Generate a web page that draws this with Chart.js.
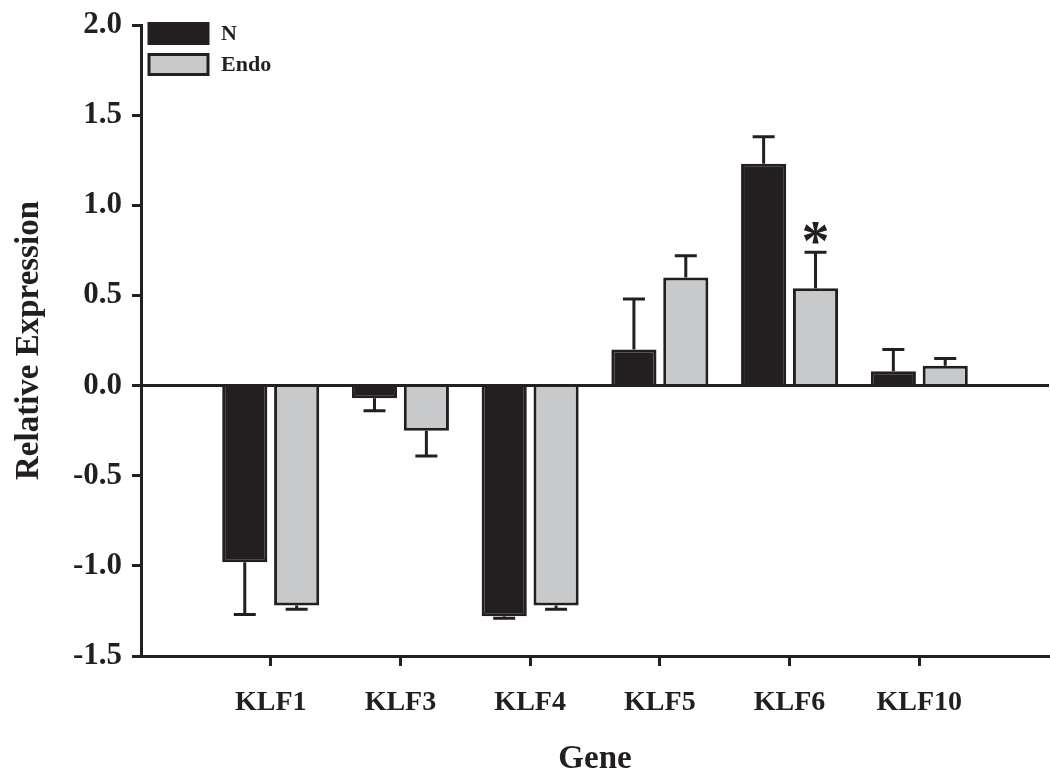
<!DOCTYPE html>
<html>
<head>
<meta charset="utf-8">
<script src="https://cdn.jsdelivr.net/npm/chart.js@4.4.0/dist/chart.umd.min.js"></script>
<style>
  html, body { margin: 0; padding: 0; background: #fff; }
  #wrap { width: 1050px; height: 781px; }
</style>
</head>
<body>
<div id="wrap"><canvas id="klfChart"></canvas></div>
<script>
// values (mean, one-sided SEM)
const genes = ['KLF1', 'KLF3', 'KLF4', 'KLF5', 'KLF6', 'KLF10'];
const nValues = [-0.98, -0.07, -1.28, 0.20, 1.23, 0.08];
const nErrors = [0.29, 0.07, 0.01, 0.28, 0.15, 0.12];
const endoValues = [-1.22, -0.25, -1.22, 0.60, 0.54, 0.11];
const endoErrors = [0.02, 0.14, 0.02, 0.12, 0.20, 0.04];
const endoMarks = ['', '', '', '', '*', ''];

const INK = '#231f20';
const GREY = '#c8c9cb';
const SERIF = '"Liberation Serif", "Times New Roman", serif';

// empty slots at both ends so the genes sit one step in from the axes
const labels = [''].concat(genes, ['']);
const pad = arr => [null].concat(arr, [null]);

const errorBars = {
    id: 'errorBars',
    afterDatasetsDraw(chart) {
        const ctx = chart.ctx;
        const yScale = chart.scales.y;
        ctx.save();
        ctx.strokeStyle = INK;
        ctx.lineWidth = 3;
        chart.data.datasets.forEach((ds, i) => {
            chart.getDatasetMeta(i).data.forEach((bar, j) => {
                const v = ds.data[j];
                const e = ds.errors[j];
                if (v == null || e == null) return;
                const tip = v + (v < 0 ? -e : e);
                const y0 = yScale.getPixelForValue(v);
                const y1 = yScale.getPixelForValue(tip);
                ctx.beginPath();
                ctx.moveTo(bar.x, y0);
                ctx.lineTo(bar.x, y1);
                ctx.moveTo(bar.x - 11, y1);
                ctx.lineTo(bar.x + 11, y1);
                ctx.stroke();
                const mark = ds.marks ? ds.marks[j] : '';
                if (mark) {
                    ctx.fillStyle = INK;
                    ctx.font = 'bold 56px ' + SERIF;
                    ctx.textAlign = 'center';
                    ctx.textBaseline = 'alphabetic';
                    const m = ctx.measureText(mark);
                    const h = m.actualBoundingBoxAscent + m.actualBoundingBoxDescent;
                    const cy = y1 - 19;
                    ctx.fillText(mark, bar.x, cy + h / 2 - m.actualBoundingBoxDescent);
                }
            });
        });
        ctx.restore();
    }
};

const boxLegend = {
    id: 'boxLegend',
    afterDraw(chart) {
        const ctx = chart.ctx;
        const area = chart.chartArea;
        ctx.save();
        ctx.font = 'bold 22px ' + SERIF;
        ctx.textBaseline = 'middle';
        ctx.textAlign = 'left';
        chart.data.datasets.forEach((ds, i) => {
            const x = area.left + 8;
            const y = area.top - 1.5 + i * 31;
            ctx.fillStyle = ds.backgroundColor;
            ctx.fillRect(x, y, 59, 20);
            ctx.strokeStyle = ds.borderColor;
            ctx.lineWidth = 3;
            ctx.strokeRect(x, y, 59, 20);
            ctx.fillStyle = INK;
            ctx.fillText(ds.label, x + 72, y + 11);
        });
        ctx.restore();
    }
};

new Chart(document.getElementById('klfChart'), {
    type: 'bar',
    data: {
        labels: labels,
        datasets: [{
            label: 'N',
            data: pad(nValues),
            errors: pad(nErrors),
            backgroundColor: INK,
            borderColor: INK,
            borderWidth: 3,
            categoryPercentage: 0.8,
            barPercentage: 0.87
        }, {
            label: 'Endo',
            data: pad(endoValues),
            errors: pad(endoErrors),
            marks: pad(endoMarks),
            backgroundColor: GREY,
            borderColor: INK,
            borderWidth: 3,
            categoryPercentage: 0.8,
            barPercentage: 0.87
        }]
    },
    options: {
        responsive: true,
        maintainAspectRatio: false,
        animation: false,
        layout: { padding: { top: 25, right: 1, left: 0, bottom: 0 } },
        plugins: {
            legend: { display: false },
            tooltip: { enabled: false }
        },
        scales: {
            x: {
                offset: false,
                border: { color: INK, width: 3 },
                grid: {
                    offset: false,
                    drawOnChartArea: false,
                    tickLength: 10,
                    tickWidth: 3,
                    tickColor: c => (c.index === 0 || c.index === labels.length - 1) ? 'rgba(0,0,0,0)' : INK
                },
                ticks: {
                    autoSkip: false,
                    maxRotation: 0,
                    padding: 20,
                    color: INK,
                    font: { family: SERIF, size: 28, weight: 'bold' }
                },
                title: {
                    display: true,
                    text: 'Gene',
                    color: INK,
                    padding: { top: 0, bottom: 2 },
                    font: { family: SERIF, size: 33, weight: 'bold' }
                },
                afterFit: s => {
                    s.height = 125;
                    s.paddingLeft = 0;
                    s.paddingRight = 0;
                }
            },
            y: {
                min: -1.5,
                max: 2.0,
                border: { color: INK, width: 3 },
                grid: {
                    lineWidth: 3,
                    tickLength: 9,
                    tickWidth: 3,
                    tickColor: INK,
                    color: c => (c.tick && c.tick.value === 0) ? INK : 'rgba(0,0,0,0)'
                },
                ticks: {
                    stepSize: 0.5,
                    padding: 10,
                    color: INK,
                    font: { family: SERIF, size: 31, weight: 'bold' },
                    callback: v => v.toFixed(1)
                },
                title: {
                    display: true,
                    text: 'Relative Expression',
                    color: INK,
                    padding: { top: 10, bottom: 0 },
                    font: { family: SERIF, size: 33, weight: 'bold' }
                },
                afterFit: s => {
                    s.width = 141;
                    s.paddingTop = 0;
                    s.paddingBottom = 0;
                }
            }
        }
    },
    plugins: [errorBars, boxLegend]
});
</script>
</body>
</html>
